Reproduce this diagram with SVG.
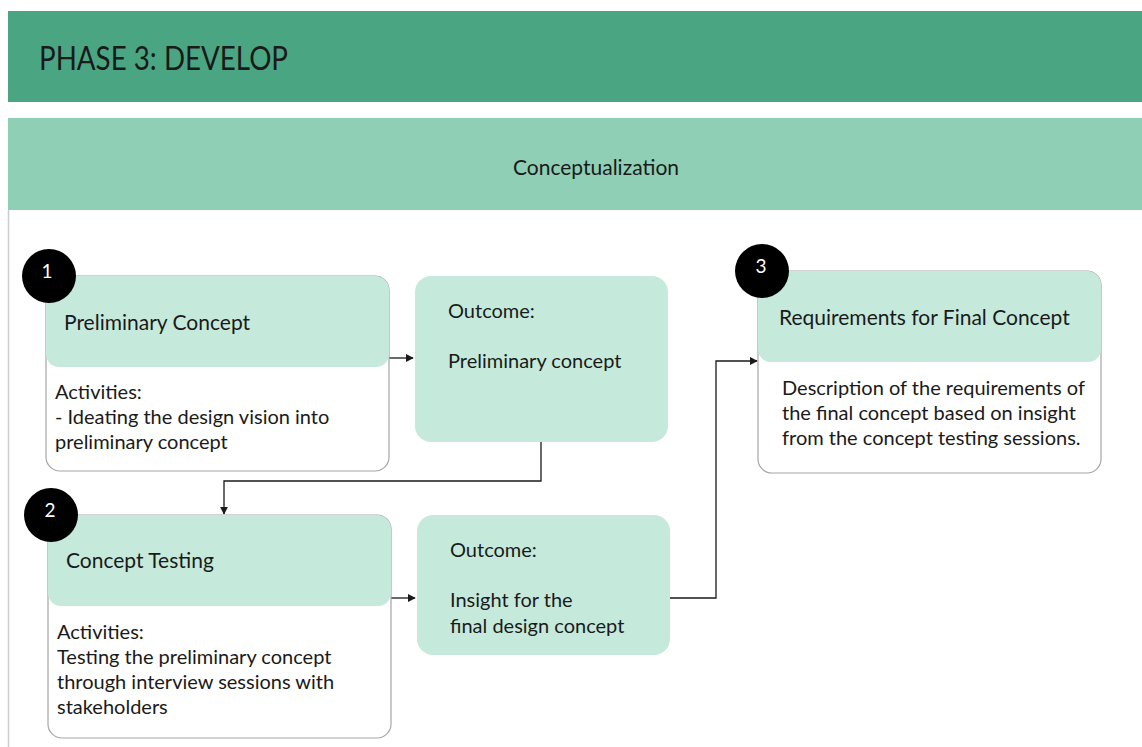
<svg xmlns="http://www.w3.org/2000/svg" width="1142" height="747" viewBox="0 0 1142 747">
  <style>
    text { font-family: Lato, "Open Sans", "Liberation Sans", sans-serif; fill: #1a1a1a; }
    .box { fill: #ffffff; stroke: #a6a6a6; stroke-width: 1.2; }
    .head { fill: #c5eadc; }
    .outcome { fill: #c5eadc; }
    .badge { fill: #000000; }
    .num { fill: #ffffff; font-size: 19px; text-anchor: middle; }
    .title { font-size: 21px; }
    .body { font-size: 20px; }
    .link { fill: none; stroke: #1a1a1a; stroke-width: 1.3; }
  </style>
  <defs>
    <marker id="arrow" viewBox="0 0 10 10" refX="9" refY="5" markerWidth="8" markerHeight="8" markerUnits="userSpaceOnUse" orient="auto">
      <path d="M0,0 L10,5 L0,10 Z" fill="#1a1a1a"/>
    </marker>
  </defs>

  <rect x="0" y="0" width="1142" height="747" fill="#ffffff"/>

  <!-- phase banner -->
  <g id="phase-banner">
    <rect x="8" y="11" width="1134" height="91" fill="#4aa682"/>
    <text x="39" y="70" font-size="33" textLength="249" lengthAdjust="spacingAndGlyphs">PHASE 3: DEVELOP</text>
  </g>

  <!-- stage band -->
  <g id="stage-band">
    <rect x="8" y="118" width="1134" height="92" fill="#8ecfb5"/>
    <text x="596" y="175" font-size="21" text-anchor="middle">Conceptualization</text>
    <line x1="8.5" y1="210" x2="8.5" y2="747" stroke="#cccccc" stroke-width="1.5"/>
  </g>

  <!-- connectors -->
  <g id="connectors">
    <path class="link" d="M389,358 H413" marker-end="url(#arrow)"/>
    <path class="link" d="M541,442 V481 H224 V514" marker-end="url(#arrow)"/>
    <path class="link" d="M391,598 H415" marker-end="url(#arrow)"/>
    <path class="link" d="M670,598 H716 V361 H757" marker-end="url(#arrow)"/>
  </g>

  <!-- step 1 -->
  <g id="step1">
    <rect class="box" x="46" y="276" width="343" height="195" rx="14"/>
    <path class="head" d="M60,276 H375 A14,14 0 0 1 389,290 V354 A13,13 0 0 1 376,367 H59 A13,13 0 0 1 46,354 V290 A14,14 0 0 1 60,276 Z"/>
    <circle class="badge" cx="49" cy="276" r="27"/>
    <text class="num" x="47" y="278">1</text>
    <text class="title" x="64" y="330">Preliminary Concept</text>
    <text class="body" x="55" y="399">Activities:</text>
    <text class="body" x="55" y="424">- Ideating the design vision into</text>
    <text class="body" x="55" y="449">preliminary concept</text>
  </g>

  <!-- outcome 1 -->
  <g id="outcome1">
    <rect class="outcome" x="415" y="276" width="253" height="166" rx="16"/>
    <text class="body" x="448" y="318">Outcome:</text>
    <text class="body" x="448" y="368">Preliminary concept</text>
  </g>

  <!-- step 2 -->
  <g id="step2">
    <rect class="box" x="48" y="515" width="343" height="223" rx="14"/>
    <path class="head" d="M62,515 H377 A14,14 0 0 1 391,529 V593 A13,13 0 0 1 378,606 H61 A13,13 0 0 1 48,593 V529 A14,14 0 0 1 62,515 Z"/>
    <circle class="badge" cx="51" cy="515" r="27"/>
    <text class="num" x="50" y="517">2</text>
    <text class="title" x="66" y="568">Concept Testing</text>
    <text class="body" x="57" y="639">Activities:</text>
    <text class="body" x="57" y="664">Testing the preliminary concept</text>
    <text class="body" x="57" y="689">through interview sessions with</text>
    <text class="body" x="57" y="714">stakeholders</text>
  </g>

  <!-- outcome 2 -->
  <g id="outcome2">
    <rect class="outcome" x="417" y="515" width="253" height="140" rx="16"/>
    <text class="body" x="450" y="557">Outcome:</text>
    <text class="body" x="450" y="607">Insight for the</text>
    <text class="body" x="450" y="633">final design concept</text>
  </g>

  <!-- step 3 -->
  <g id="step3">
    <rect class="box" x="758" y="271" width="343" height="202" rx="14"/>
    <path class="head" d="M772,271 H1087 A14,14 0 0 1 1101,285 V349 A13,13 0 0 1 1088,362 H771 A13,13 0 0 1 758,349 V285 A14,14 0 0 1 772,271 Z"/>
    <circle class="badge" cx="762" cy="271" r="27"/>
    <text class="num" x="761" y="273">3</text>
    <text class="title" x="779" y="325">Requirements for Final Concept</text>
    <text class="body" x="782" y="395">Description of the requirements of</text>
    <text class="body" x="782" y="420">the final concept based on insight</text>
    <text class="body" x="782" y="445">from the concept testing sessions.</text>
  </g>
</svg>
